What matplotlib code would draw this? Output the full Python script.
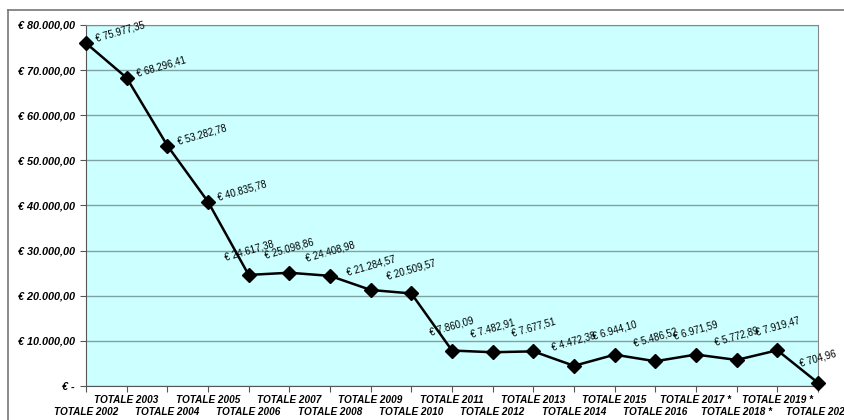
import matplotlib
matplotlib.use('Agg')
import matplotlib.pyplot as plt
from matplotlib.lines import Line2D

plt.rcParams['font.family'] = ['Liberation Sans', 'DejaVu Sans']

# dati
anni = ['TOTALE 2002', 'TOTALE 2003', 'TOTALE 2004', 'TOTALE 2005', 'TOTALE 2006',
        'TOTALE 2007', 'TOTALE 2008', 'TOTALE 2009', 'TOTALE 2010', 'TOTALE 2011',
        'TOTALE 2012', 'TOTALE 2013', 'TOTALE 2014', 'TOTALE 2015', 'TOTALE 2016',
        'TOTALE 2017 *', 'TOTALE 2018 *', 'TOTALE 2019 *', 'TOTALE 2020']
importi = [75977.35, 68296.41, 53282.78, 40835.78, 24617.38,
           25098.86, 24408.98, 21284.57, 20509.57, 7860.09,
           7482.91, 7677.51, 4472.38, 6944.10, 5486.52,
           6971.59, 5772.89, 7919.47, 704.96]
y_ticks = [0, 10000, 20000, 30000, 40000, 50000, 60000, 70000, 80000]


def euro(v):
    if v == 0:
        return '€ -'
    s = f'{v:,.2f}'
    s = s.replace(',', 'X').replace('.', ',').replace('X', '.')
    return '€ ' + s


fig = plt.figure(figsize=(8.45, 4.2), dpi=100)
ax = fig.add_axes([86 / 845, 1 - 386 / 420, (818 - 86) / 845, (386 - 25) / 420])
ax.set_facecolor('#ccffff')

x = list(range(len(anni)))
ax.plot(x, importi, color='black', linewidth=1.8, marker='D', markersize=7.5,
        markerfacecolor='black', markeredgecolor='black', clip_on=False, zorder=5)

ax.set_xlim(0, len(anni) - 1)
ax.set_ylim(0, 80000)
ax.set_yticks(y_ticks)
ax.set_yticklabels([euro(v) for v in y_ticks], fontsize=7.8, fontweight='bold', fontstyle='italic')
ax.set_xticks(x)
ax.set_xticklabels([])
ax.tick_params(axis='y', length=4, color='#555555', pad=4)
ax.tick_params(axis='x', length=4, color='#555555')
ax.grid(axis='y', color='#7fa3a3', linewidth=1)
ax.set_axisbelow(True)
for sp in ax.spines.values():
    sp.set_color('#888888')
ax.spines['left'].set_color('#555555')
ax.spines['bottom'].set_color('#555555')

# etichette asse x su due righe
for i, lab in enumerate(anni):
    off = -14 if i % 2 == 1 else -26
    ax.annotate(lab, (i, 0), xytext=(0, off), textcoords='offset pixels',
                ha='center', va='center', fontsize=7.2, fontweight='bold',
                fontstyle='italic', annotation_clip=False)

# etichette dati
for i, v in enumerate(importi):
    if i < 4:
        ax.annotate(euro(v), (i, v), xytext=(10, 4), textcoords='offset pixels',
                    ha='left', va='center', rotation=16, rotation_mode='anchor',
                    fontsize=6.9, annotation_clip=False)
    else:
        ax.annotate(euro(v), (i, v), xytext=(0, 24), textcoords='offset pixels',
                    ha='center', va='center', rotation=16, rotation_mode='anchor',
                    fontsize=6.9, annotation_clip=False)

# cornice esterna
fig.add_artist(Line2D([8 / 845, 1], [1 - 10 / 420, 1 - 10 / 420], color='#777777', linewidth=1.2))
fig.add_artist(Line2D([8 / 845, 8 / 845], [0, 1 - 10 / 420], color='#777777', linewidth=1.2))

fig.savefig('out.png', dpi=100, facecolor='white')
